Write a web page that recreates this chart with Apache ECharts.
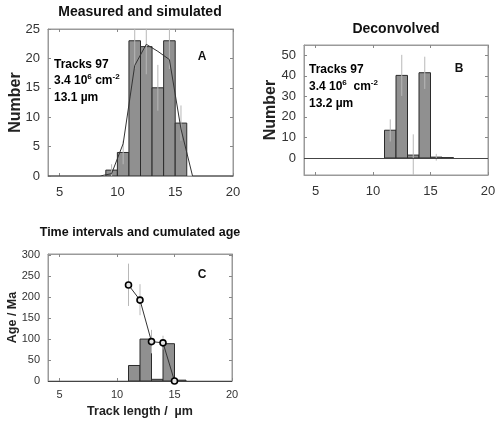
<!DOCTYPE html>
<html><head><meta charset="utf-8">
<script src="https://cdn.jsdelivr.net/npm/echarts@6/dist/echarts.min.js"></script>
<style>html,body{margin:0;padding:0;background:#fff}#c{width:500px;height:423px}</style>
</head><body><div id="c"></div>
<script>
// ---------- data ----------
const xTickValues = [5, 10, 15, 20];

// Panel A: measured histogram (bin start, bin end, count) and simulated curve
const binStartA = [9, 10, 11, 12, 13, 14, 15];
const binEndA   = [10, 11, 12, 13, 14, 15, 16];
const countsA   = [1, 4, 23, 22, 15, 23, 9];
const errCentreA = [9.5, 10.5, 11.5, 12.5, 13.5, 14.5, 15.5];
const errLowA   = [0, 2, 18.2, 17.3, 11.1, 18.2, 6];
const errHighA  = [2, 6, 27.8, 26.7, 18.9, 27.8, 12];
const simX      = [4, 8.5, 9.5, 10.5, 11.5, 12.5, 13.5, 14.5, 15.5, 16.5, 20];
const simY      = [0, 0, 0.4, 5.5, 18.8, 22.4, 21.2, 19.8, 8, 0, 0];
const yTicksA   = [0, 5, 10, 15, 20, 25];

// Panel B: deconvolved histogram
const binStartB = [11, 12, 13, 14, 15, 16];
const binEndB   = [12, 13, 14, 15, 16, 17];
const countsB   = [13.5, 40.2, 1.4, 41.5, 0.4, 0.15];
const errCentreB = [11.5, 12.5, 13.5, 14.5, 15.5];
const errLowB   = [8, 30.2, -8.5, 33.6, -1.3];
const errHighB  = [18.8, 50.2, 11.5, 49.3, 2];
const yTicksB   = [0, 10, 20, 30, 40, 50];

// Panel C: time intervals and cumulated age
const binStartC = [11, 12, 13, 14, 15];
const binEndC   = [12, 13, 14, 15, 16];
const intervalsC = [37, 100, 4, 89, 2];
const ageX      = [11, 12, 13, 14, 15];
const ageY      = [229, 193, 94, 91, 0];
const errXC     = [11, 12, 13, 14];
const errLowC   = [179, 157, 66, 75];
const errHighC  = [280, 231, 122, 108];
const yTicksC   = [0, 50, 100, 150, 200, 250, 300];

// ---------- helpers ----------
const FONT = 'Liberation Sans';
const zip3 = (a, b, c) => a.map((v, i) => [v, b[i], c[i]]);
const zip2 = (a, b) => a.map((v, i) => [v, b[i]]);

function barRender(params, api) {
  const p0 = api.coord([api.value(0), 0]);
  const p1 = api.coord([api.value(1), api.value(2)]);
  return {
    type: 'rect',
    shape: { x: p0[0], y: p1[1], width: p1[0] - p0[0], height: p0[1] - p1[1] },
    style: { fill: '#909090', stroke: '#2b2b2b', lineWidth: 1 }
  };
}
function errRender(params, api) {
  const a = api.coord([api.value(0), api.value(1)]);
  const b = api.coord([api.value(0), api.value(2)]);
  return {
    type: 'line',
    shape: { x1: a[0], y1: a[1], x2: b[0], y2: b[1] },
    style: { stroke: '#b8b8b8', lineWidth: 1 }
  };
}

const gridDefs = [
  { left: 48, right: 267, top: 29, bottom: 247 },
  { left: 304, right: 12, top: 45, bottom: 248 },
  { left: 48, right: 268, top: 254, bottom: 42 }
];
const grids = gridDefs.map(g => Object.assign({ show: true, borderColor: '#9a9a9a', borderWidth: 1, containLabel: false }, g));

function xAxes(gi, fs, margin, name) {
  const base = { type: 'value', gridIndex: gi, min: 4, max: 20, splitLine: { show: false },
    axisLine: { show: true, onZero: false, lineStyle: { color: '#9a9a9a' } } };
  return [
    Object.assign({}, base, {
      position: 'bottom',
      axisTick: { show: true, inside: true, length: 3, lineStyle: { color: '#888' }, customValues: xTickValues },
      axisLabel: { show: true, customValues: xTickValues, fontFamily: FONT, fontSize: fs, color: '#333', margin: margin },
      name: name || '', nameLocation: 'middle', nameGap: 24, nameMoveOverlap: false,
      nameTextStyle: { fontFamily: FONT, fontWeight: 'bold', fontSize: 12.5, color: '#222' }
    }),
    Object.assign({}, base, {
      position: 'top',
      axisTick: { show: true, inside: true, length: 3, lineStyle: { color: '#888' }, customValues: xTickValues },
      axisLabel: { show: false }
    })
  ];
}
function yAxes(gi, min, max, ticks, fs, name, nfs, gap) {
  const base = { type: 'value', gridIndex: gi, min: min, max: max, splitLine: { show: false },
    axisLine: { show: true, onZero: false, lineStyle: { color: '#9a9a9a' } } };
  return [
    Object.assign({}, base, {
      position: 'left',
      axisTick: { show: true, inside: true, length: 3, lineStyle: { color: '#888' }, customValues: ticks },
      axisLabel: { show: true, customValues: ticks, fontFamily: FONT, fontSize: fs, color: '#333', margin: 8 },
      name: name, nameLocation: 'middle', nameGap: gap, nameRotate: 90, nameMoveOverlap: false,
      nameTextStyle: { fontFamily: FONT, fontWeight: 'bold', fontSize: nfs, color: '#222' }
    }),
    Object.assign({}, base, {
      position: 'right',
      axisTick: { show: true, inside: true, length: 3, lineStyle: { color: '#888' }, customValues: ticks },
      axisLabel: { show: false }
    })
  ];
}

const xAxis = [].concat(xAxes(0, 13, 10), xAxes(1, 13, 10), xAxes(2, 11, 8, 'Track length /  \u00b5m'));
const yAxis = [].concat(
  yAxes(0, 0, 25, yTicksA, 13, 'Number', 16, 24),
  yAxes(1, -8.3, 55, yTicksB, 13, 'Number', 16, 25),
  yAxes(2, 0, 303, yTicksC, 11, 'Age / Ma', 12.5, 29)
);

const series = [
  // A
  { type: 'custom', xAxisIndex: 0, yAxisIndex: 0, renderItem: barRender, clip: true,
    encode: { x: [0, 1], y: 2 }, data: zip3(binStartA, binEndA, countsA), z: 2 },
  { type: 'custom', xAxisIndex: 0, yAxisIndex: 0, renderItem: errRender, clip: true,
    encode: { x: 0, y: [1, 2] }, data: zip3(errCentreA, errLowA, errHighA), z: 3 },
  { type: 'line', xAxisIndex: 0, yAxisIndex: 0, data: zip2(simX, simY), showSymbol: false, symbol: 'none',
    lineStyle: { color: '#333', width: 1 }, z: 4, clip: true },
  // B
  { type: 'custom', xAxisIndex: 2, yAxisIndex: 2, renderItem: barRender, clip: true,
    encode: { x: [0, 1], y: 2 }, data: zip3(binStartB, binEndB, countsB), z: 2,
    markLine: { silent: true, symbol: 'none', label: { show: false },
      lineStyle: { color: '#444', width: 1, type: 'solid' }, data: [{ yAxis: 0 }] } },
  { type: 'custom', xAxisIndex: 2, yAxisIndex: 2, renderItem: errRender, clip: true,
    encode: { x: 0, y: [1, 2] }, data: zip3(errCentreB, errLowB, errHighB), z: 3 },
  // C
  { type: 'custom', xAxisIndex: 4, yAxisIndex: 4, renderItem: barRender, clip: true,
    encode: { x: [0, 1], y: 2 }, data: zip3(binStartC, binEndC, intervalsC), z: 2,
    markLine: { silent: true, symbol: 'none', label: { show: false },
      lineStyle: { color: '#444', width: 1, type: 'solid' }, data: [{ yAxis: 0 }] } },
  { type: 'custom', xAxisIndex: 4, yAxisIndex: 4, renderItem: errRender, clip: true,
    encode: { x: 0, y: [1, 2] }, data: zip3(errXC, errLowC, errHighC), z: 3 },
  { type: 'line', xAxisIndex: 4, yAxisIndex: 4, data: zip2(ageX, ageY), symbol: 'circle', symbolSize: 6,
    itemStyle: { color: '#e6e6e6', borderColor: '#000', borderWidth: 1.6 },
    lineStyle: { color: '#333', width: 1 }, z: 5 }
];

const rich = {
  b: { fontFamily: FONT, fontWeight: 'bold', fontSize: 12, color: '#111' },
  s: { fontFamily: FONT, fontWeight: 'bold', fontSize: 8, color: '#111', verticalAlign: 'top' }
};
function txt(x, y, text, size, align, extra) {
  return { type: 'text', x: x, y: y, z: 10, style: Object.assign({ text: text, fontFamily: FONT, fontWeight: 'bold',
    fontSize: size, fill: '#111', align: align || 'center', verticalAlign: 'middle' }, extra || {}) };
}

const graphic = [
  txt(140, 12, 'Measured and simulated', 14),
  txt(396, 29, 'Deconvolved', 14),
  txt(140, 233, 'Time intervals and cumulated age', 12.5),
  txt(202, 57, 'A', 12),
  txt(459, 69, 'B', 12),
  txt(202, 275, 'C', 12),
  { type: 'text', x: 54, y: 56, z: 10, style: { text: '{b|Tracks 97}\n{b|3.4 10}{s|6}{b| cm}{s|-2}\n{b|13.1 \u00b5m}',
    rich: rich, lineHeight: 16.5, verticalAlign: 'top', align: 'left' } },
  { type: 'text', x: 309, y: 61.5, z: 10, style: { text: '{b|Tracks 97}\n{b|3.4 10}{s|6}{b|  cm}{s|-2}\n{b|13.2 \u00b5m}',
    rich: rich, lineHeight: 17, verticalAlign: 'top', align: 'left' } }
];

const chart = echarts.init(document.getElementById('c'), null, { renderer: 'canvas' });
chart.setOption({ animation: false, backgroundColor: '#fff', grid: grids, xAxis: xAxis, yAxis: yAxis, series: series, graphic: graphic });
</script>
</body></html>
